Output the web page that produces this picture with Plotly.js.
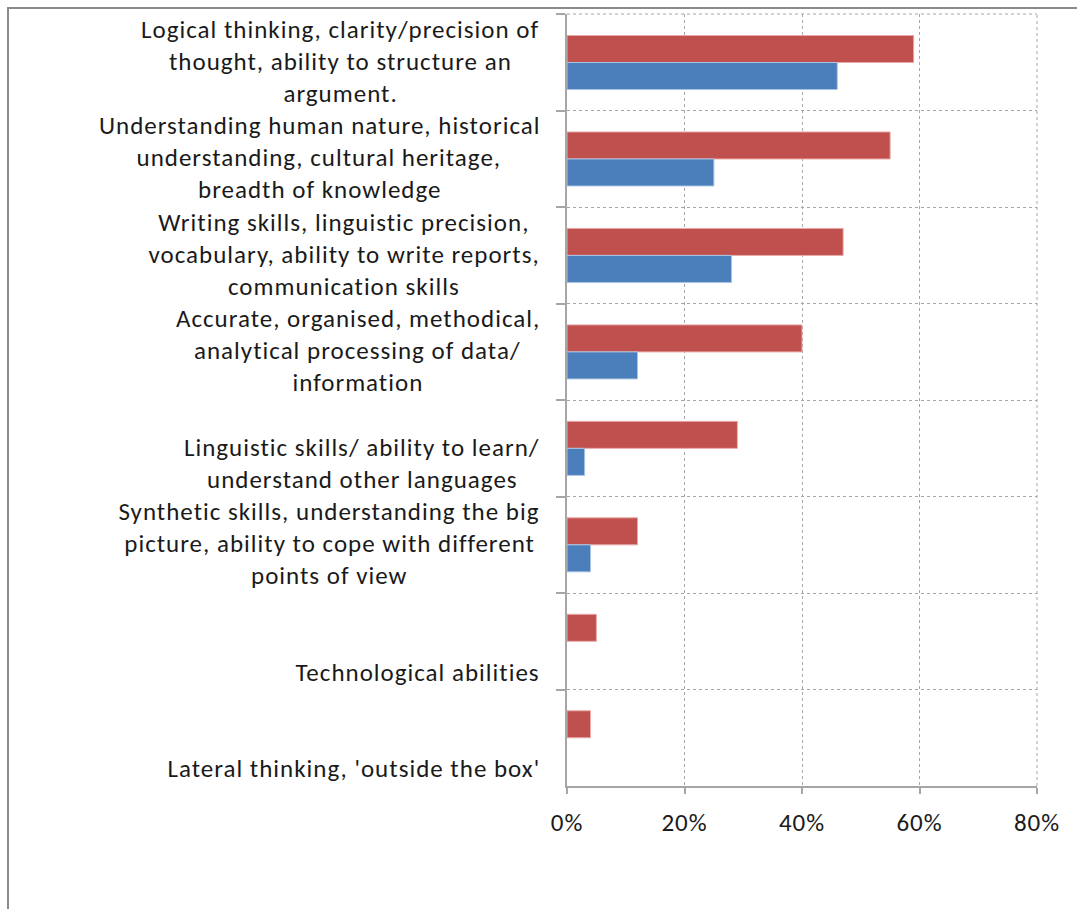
<!DOCTYPE html>
<html>
<head>
<meta charset="utf-8">
<script src="https://cdn.plot.ly/plotly-3.0.1.min.js"></script>
<style>
  html, body { margin: 0; padding: 0; background: #ffffff; overflow: hidden; }
  #frame { position: absolute; left: 7px; top: 7px; width: 1200px; height: 1000px; border: 2px solid #8a8a8a; box-sizing: border-box; }
  #chart { position: absolute; left: 0; top: 0; width: 1077px; height: 909px; }
  #chart .annotation-text, #chart .xtick text { letter-spacing: 1px; }
</style>
</head>
<body>
<div id="frame"></div>
<div id="chart"></div>
<script>
const categories = [
  "Logical thinking, clarity/precision of<br>thought, ability to structure an<br>argument.",
  "Understanding human nature, historical<br>understanding, cultural heritage,<br>breadth of knowledge",
  "Writing skills, linguistic precision,<br>vocabulary, ability to write reports,<br>communication skills",
  "Accurate, organised, methodical,<br>analytical processing of data/<br>information",
  "Linguistic skills/ ability to learn/<br>understand other languages",
  "Synthetic skills, understanding the big<br>picture, ability to cope with different<br>points of view",
  "Technological abilities",
  "Lateral thinking, 'outside the box'"
];
const redValues  = [59, 55, 47, 40, 29, 12, 5, 4];
const blueValues = [46, 25, 28, 12, 3, 4, 0, 0];
const xTickVals = [0, 20, 40, 60, 80];
const xTickText = ["0%", "20%", "40%", "60%", "80%"];

const fontFam = "Carlito, Lato, sans-serif";
const fontSize = 25;
const textColor = "#1a1a1a";
const gridColor = "#a6a6a6";

const ctx = document.createElement("canvas").getContext("2d");
ctx.font = fontSize + "px Carlito, Lato, sans-serif";
try { ctx.letterSpacing = "1px"; } catch (e) {}
function measure(s) { return ctx.measureText(s).width; }

const traces = [
  {
    type: "bar", orientation: "h", y: categories, x: redValues,
    marker: { color: "#C0504D", line: { color: "#E8A9A7", width: redValues.map(v => v > 0 ? 1 : 0) } },
    hoverinfo: "skip"
  },
  {
    type: "bar", orientation: "h", y: categories, x: blueValues,
    marker: { color: "#4A7FBB", line: { color: "#A9C3E2", width: blueValues.map(v => v > 0 ? 1 : 0) } },
    hoverinfo: "skip"
  }
];

// one annotation per label line, lines centred within each label block,
// block right-aligned next to the axis and sitting near the bottom of its band
const annotations = [];
categories.forEach(c => {
  const lines = c.split("<br>");
  const n = lines.length;
  const maxW = Math.max(...lines.map(measure));
  lines.forEach((ln, i) => {
    annotations.push({
      xref: "paper", yref: "y", x: 0, y: c,
      xanchor: "center", yanchor: "middle",
      xshift: -27 - maxW / 2,
      yshift: -31 + (n - 1 - i) * 32,
      text: ln, showarrow: false,
      font: { family: fontFam, size: fontSize, color: textColor }
    });
  });
});

const layout = {
  width: 1077, height: 909,
  margin: { l: 567, r: 40, t: 14, b: 123 },
  paper_bgcolor: "rgba(0,0,0,0)",
  plot_bgcolor: "rgba(0,0,0,0)",
  showlegend: false,
  barmode: "group",
  bargap: 0.44,
  bargroupgap: 0,
  xaxis: {
    range: [0, 80], tickvals: xTickVals, ticktext: xTickText,
    showgrid: true, gridcolor: gridColor, griddash: "dot", gridwidth: 1,
    zeroline: false,
    showline: true, linecolor: gridColor, linewidth: 2,
    ticks: "outside", ticklen: 6, tickcolor: gridColor, tickwidth: 2,
    ticklabelstandoff: 7,
    tickfont: { family: fontFam, size: fontSize, color: textColor },
    fixedrange: true
  },
  yaxis: {
    autorange: "reversed",
    tickson: "boundaries",
    showticklabels: false,
    showgrid: true, gridcolor: gridColor, griddash: "dot", gridwidth: 1,
    showline: true, linecolor: gridColor, linewidth: 2,
    ticks: "outside", ticklen: 9, tickcolor: gridColor, tickwidth: 2,
    fixedrange: true
  },
  shapes: [
    { type: "line", xref: "paper", yref: "paper", x0: 0, x1: 1, y0: 1, y1: 1,
      line: { color: gridColor, width: 1, dash: "dot" }, layer: "below" },
    { type: "line", xref: "paper", yref: "paper", x0: 1, x1: 1, y0: 0, y1: 1,
      line: { color: gridColor, width: 1, dash: "dot" }, layer: "below" }
  ],
  annotations: annotations
};

Plotly.newPlot("chart", traces, layout, { displayModeBar: false, staticPlot: true });
</script>
</body>
</html>
